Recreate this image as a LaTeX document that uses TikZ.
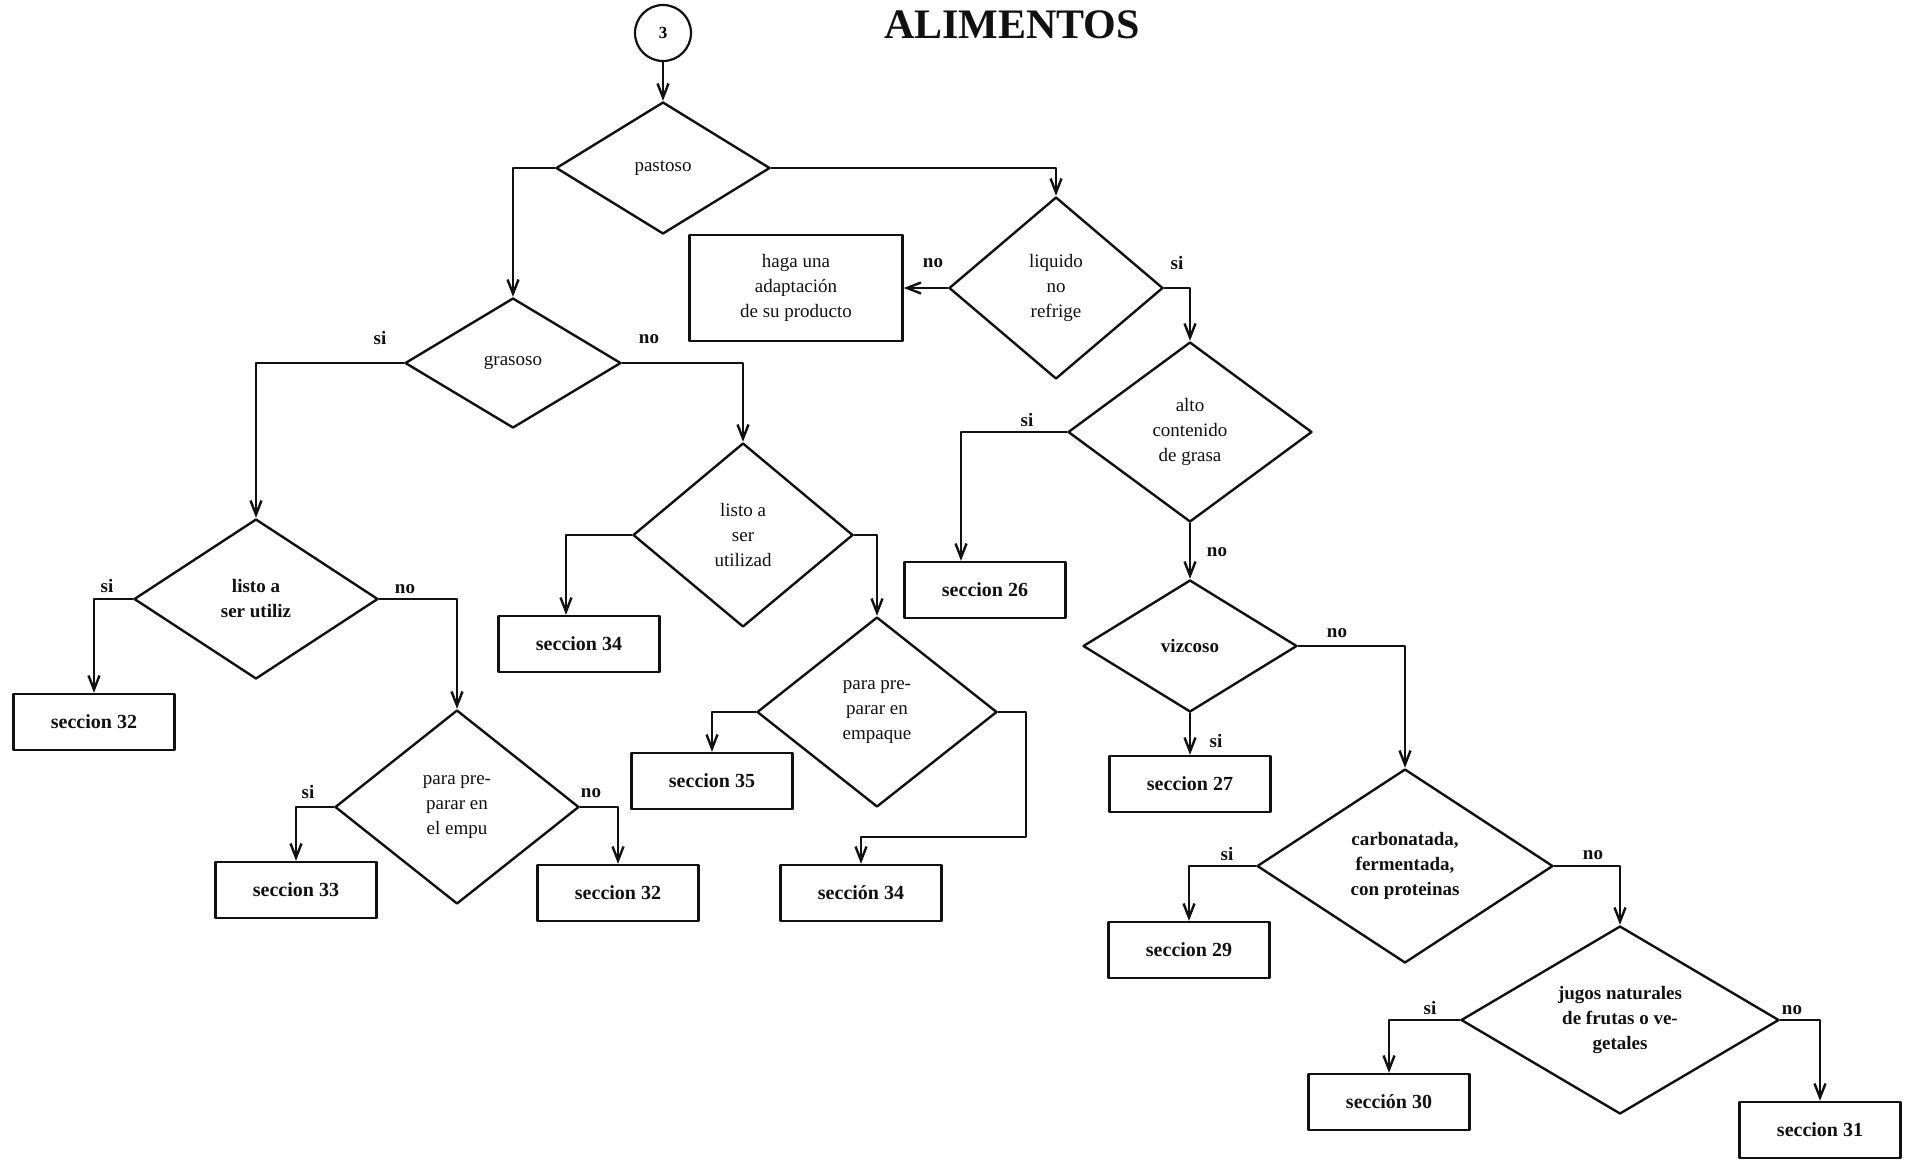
\documentclass[tikz,border=0pt]{standalone}
\usepackage{fontspec}
\setmainfont{Liberation Serif}
\usepackage{tikz}
\usetikzlibrary{arrows.meta,positioning,shapes.geometric}
\definecolor{ink}{HTML}{111111}
\tikzset{
    every picture/.style={line cap=round,line join=round},
    decision/.style={draw=ink,diamond,aspect=1.6,line width=2.4pt,
      inner sep=0pt,align=center,text=ink,font=\fontsize{19}{25}\selectfont},
    strong/.style={font=\bfseries\fontsize{19}{25}\selectfont},
    secbox/.style={draw=ink,rectangle,line width=2.4pt,
      minimum width=161pt,minimum height=56pt,inner sep=2pt,align=center,
      text=ink,font=\bfseries\fontsize{20}{25}\selectfont},
    connector/.style={draw=ink,circle,line width=2.2pt,minimum size=56pt,
      inner sep=0pt,font=\bfseries\fontsize{17}{20}\selectfont},
    branchlbl/.style={inner sep=1pt,text=ink,font=\bfseries\fontsize{19}{22}\selectfont},
    flowarrow/.style={-{Straight Barb[length=14pt,width=11pt]},draw=ink,
      line width=2.4pt}
}
\begin{document}
\begin{tikzpicture}[x=1pt,y=-1pt]
  \useasboundingbox (0,0) rectangle (1908,1160);
  \node[anchor=base,text=ink,font=\bfseries\fontsize{42}{42}\selectfont] (title) at (1012,38) {ALIMENTOS};
  \node[connector] (start) at (663,33) {3};
  \node[decision,minimum width=214pt,minimum height=132pt] (pastoso) at (663,168) {pastoso};
  % rama derecha: liquidos
  \node[decision,minimum width=214pt,minimum height=182pt] (liquido) at (1056,288) {liquido\\no\\refrige};
  \node[secbox,font=\fontsize{19}{25}\selectfont,minimum width=213pt,minimum height=106pt] (haga) at (796,288)
    {haga una\\adaptación\\de su producto};
  \node[decision,minimum width=244pt,minimum height=180pt] (alto) at (1190,432) {alto\\contenido\\de grasa};
  \node[secbox] (s26) at (985,590) {seccion 26};
  \node[decision,strong,minimum width=214pt,minimum height=132pt] (vizcoso) at (1190,646) {vizcoso};
  \node[secbox] (s27) at (1190,784) {seccion 27};
  \node[decision,strong,minimum width=296pt,minimum height=194pt] (carbo) at (1405,866)
    {carbonatada,\\fermentada,\\con proteinas};
  \node[secbox] (s29) at (1189,950) {seccion 29};
  \node[decision,strong,minimum width=318pt,minimum height=188pt] (jugos) at (1620,1020)
    {jugos naturales\\de frutas o ve-\\getales};
  \node[secbox] (s30) at (1389,1102) {sección 30};
  \node[secbox] (s31) at (1820,1130) {seccion 31};
  % rama izquierda: pastosos
  \node[decision,minimum width=216pt,minimum height=130pt] (grasoso) at (513,363) {grasoso};
  \node[decision,strong,minimum width=244pt,minimum height=160pt] (listoA) at (256,599) {listo a\\ser utiliz};
  \node[secbox] (s32a) at (94,722) {seccion 32};
  \node[decision,minimum width=244pt,minimum height=194pt] (paraA) at (457,807) {para pre-\\parar en\\el empu};
  \node[secbox] (s33) at (296,890) {seccion 33};
  \node[secbox] (s32b) at (618,893) {seccion 32};
  \node[decision,minimum width=220pt,minimum height=184pt] (listoB) at (743,535) {listo a\\ser\\utilizad};
  \node[secbox] (s34a) at (579,644) {seccion 34};
  \node[decision,minimum width=240pt,minimum height=190pt] (paraB) at (877,712) {para pre-\\parar en\\empaque};
  \node[secbox] (s35) at (712,781) {seccion 35};
  \node[secbox] (s34b) at (861,893) {sección 34};
  \coordinate (paraBturn) at (1026,837);
  % etiquetas si / no
  \node[branchlbl] (lqNo) at (933,263) {no};
  \node[branchlbl] (lqSi) at (1177,263) {si};
  \node[branchlbl] (alSi) at (1027,420) {si};
  \node[branchlbl] (alNo) at (1217,552) {no};
  \node[branchlbl] (vzNo) at (1337,633) {no};
  \node[branchlbl] (vzSi) at (1216,741) {si};
  \node[branchlbl] (cbSi) at (1227,854) {si};
  \node[branchlbl] (cbNo) at (1593,855) {no};
  \node[branchlbl] (jgSi) at (1430,1008) {si};
  \node[branchlbl] (jgNo) at (1792,1010) {no};
  \node[branchlbl] (grSi) at (380,338) {si};
  \node[branchlbl] (grNo) at (649,339) {no};
  \node[branchlbl] (laSi) at (107,586) {si};
  \node[branchlbl] (laNo) at (405,589) {no};
  \node[branchlbl] (paSi) at (308,792) {si};
  \node[branchlbl] (paNo) at (591,793) {no};
  % conectores
  \draw[flowarrow] (start) -- (pastoso.north);
  \draw[flowarrow] (pastoso.east) -| (liquido.north);
  \draw[flowarrow] (pastoso.west) -| (grasoso.north);
  \draw[flowarrow] (liquido.west) -- (haga.east);
  \draw[flowarrow] (liquido.east) -| (alto.north);
  \draw[flowarrow] (alto.west) -| ([xshift=-24pt]s26.north);
  \draw[flowarrow] (alto.south) -- (vizcoso.north);
  \draw[flowarrow] (vizcoso.south) -- (s27.north);
  \draw[flowarrow] (vizcoso.east) -| (carbo.north);
  \draw[flowarrow] (carbo.west) -| (s29.north);
  \draw[flowarrow] (carbo.east) -| (jugos.north);
  \draw[flowarrow] (jugos.west) -| (s30.north);
  \draw[flowarrow] (jugos.east) -| (s31.north);
  \draw[flowarrow] (grasoso.west) -| (listoA.north);
  \draw[flowarrow] (grasoso.east) -| (listoB.north);
  \draw[flowarrow] (listoA.west) -| (s32a.north);
  \draw[flowarrow] (listoA.east) -| (paraA.north);
  \draw[flowarrow] (paraA.west) -| (s33.north);
  \draw[flowarrow] (paraA.east) -| (s32b.north);
  \draw[flowarrow] (listoB.west) -| ([xshift=-13pt]s34a.north);
  \draw[flowarrow] (listoB.east) -| (paraB.north);
  \draw[flowarrow] (paraB.west) -| (s35.north);
  \draw[flowarrow] (paraB.east) -| (paraBturn) -| (s34b.north);
\end{tikzpicture}
\end{document}
